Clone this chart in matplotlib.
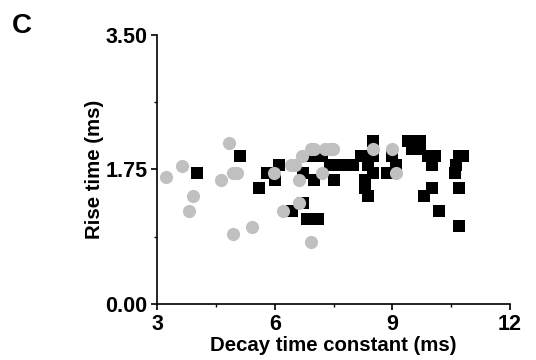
import matplotlib
matplotlib.use("Agg")
import matplotlib.pyplot as plt
from matplotlib.ticker import MultipleLocator

# gray circles
circ_x = [3.21, 3.62, 3.91, 3.81, 4.62, 4.82, 4.92, 5.04, 4.92, 5.42, 5.99, 6.21,
          6.40, 6.52, 6.61, 6.61, 6.70, 6.91, 7.01, 6.91, 7.20, 7.27, 7.40, 7.49,
          8.50, 9.00, 9.10]
circ_y = [1.65, 1.80, 1.40, 1.21, 1.61, 2.10, 1.71, 1.71, 0.91, 1.00, 1.71, 1.21,
          1.81, 1.81, 1.61, 1.31, 1.92, 2.02, 2.02, 0.81, 1.71, 2.02, 2.02, 2.02,
          2.02, 2.02, 1.71]

# black squares
sq_x = [4.02, 5.10, 5.60, 5.79, 6.01, 6.11, 6.44, 6.72, 6.72, 6.81, 7.10, 6.99,
        6.93, 7.21, 7.40, 7.51, 7.70, 8.00, 8.19, 8.29, 8.29, 8.38, 8.38, 8.51,
        8.51, 8.51, 8.87, 9.00, 9.10, 9.40, 9.50, 9.70, 9.71, 9.80, 9.91, 10.00,
        10.08, 10.00, 10.20, 10.59, 10.63, 10.71, 10.80, 10.70, 10.70]
sq_y = [1.71, 1.92, 1.51, 1.71, 1.61, 1.81, 1.21, 1.31, 1.71, 1.11, 1.11, 1.61,
        1.92, 1.92, 1.81, 1.61, 1.81, 1.81, 1.92, 1.61, 1.51, 1.40, 1.81, 2.12,
        1.92, 1.71, 1.71, 1.92, 1.81, 2.12, 2.02, 2.12, 2.02, 1.40, 1.92, 1.81,
        1.92, 1.51, 1.21, 1.71, 1.81, 1.92, 1.92, 1.51, 1.01]

plt.rcParams['font.family'] = ['Liberation Sans', 'DejaVu Sans']
plt.rcParams['font.weight'] = 'bold'

fig = plt.figure(figsize=(5.36, 3.6), dpi=100)
ax = fig.add_axes([0.2935, 0.1556, 0.658, 0.7472])

ax.scatter(sq_x, sq_y, marker='s', s=72, c='black', linewidths=0, zorder=2)
ax.scatter(circ_x, circ_y, marker='o', s=90, c='#c0c0c0', linewidths=0, zorder=3)

ax.set_xlim(3, 12)
ax.set_ylim(0, 3.5)
ax.set_xticks([3, 6, 9, 12])
ax.set_yticks([0, 1.75, 3.5])
ax.set_yticklabels(['0.00', '1.75', '3.50'])
ax.xaxis.set_minor_locator(MultipleLocator(1.5))
ax.yaxis.set_minor_locator(MultipleLocator(0.875))

for s in ['top', 'right']:
    ax.spines[s].set_visible(False)
for s in ['left', 'bottom']:
    ax.spines[s].set_linewidth(1.2)

ax.tick_params(which='major', direction='out', length=4, width=1.2,
               labelsize=15.5, pad=3)
ax.tick_params(which='minor', direction='out', length=2.5, width=1)
for lab in ax.get_xticklabels() + ax.get_yticklabels():
    lab.set_fontweight('bold')

ax.set_xlabel('Decay time constant (ms)', fontsize=14.7, fontweight='bold', labelpad=1)
ax.set_ylabel('Rise time (ms)', fontsize=14.7, fontweight='bold', labelpad=1)

fig.text(0.022, 0.965, 'C', fontsize=20, fontweight='bold', va='top', ha='left')

fig.savefig('out.png', dpi=100)
